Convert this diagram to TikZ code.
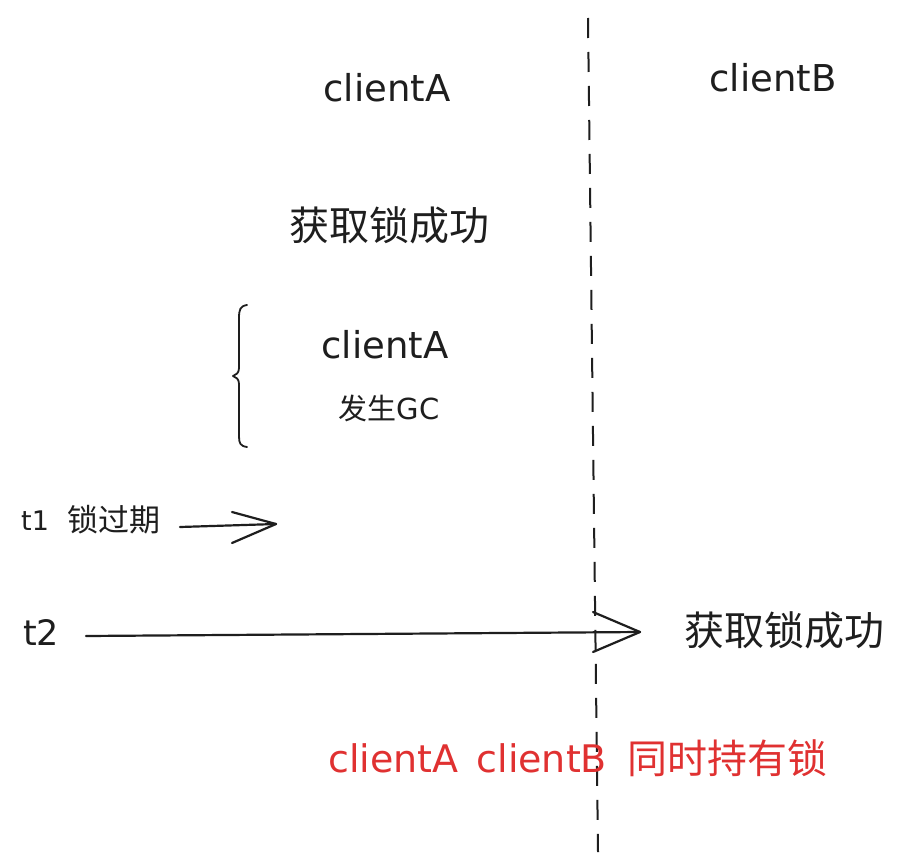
\documentclass[tikz,border=0pt]{standalone}
\usepackage{fontspec}
\setmainfont{DejaVu Sans}
\newfontfamily\cjk{Noto Sans CJK SC}
\usetikzlibrary{calc}
\definecolor{ink}{HTML}{1E1E1E}
\definecolor{exred}{HTML}{E03131}
\begin{document}
\begin{tikzpicture}[x=1pt,y=-1pt,
  hand/.style={inner sep=0pt, text=ink, font=\fontsize{37}{40}\selectfont},
  cn/.style={inner sep=0pt, text=ink, font=\cjk\fontsize{40}{44}\selectfont},
  stroke/.style={draw=ink, line width=2.2pt, line cap=round, line join=round},
  divider/.style={draw=ink, line width=2pt, dash pattern=on 20pt off 14pt}]
\path[fill=white, use as bounding box] (0,0) rectangle (904,867);

% divider
\coordinate (dtop) at (588,18);
\coordinate (dbot) at (598,852);
\draw[divider] (dtop) -- (dbot);

% headers
\node[hand] (cA) at (387,88) {clientA};
\node[hand] (cB) at (773,78) {clientB};

\node[cn] (getA) at (389,225) {获取锁成功};

% brace and GC
\node[hand] (cA2) at (385,345) {clientA};
\node[inner sep=0pt, text=ink] (gc) at (389,408) {{\cjk\fontsize{29}{32}\selectfont 发生}{\fontsize{29}{32}\selectfont GC}};
\coordinate (bt) at (247,305);
\coordinate (bb) at (247,447);
\draw[stroke, line width=1.8pt] (bt) .. controls (240,306) and (239,310) .. (239,318)
  -- (239,368) .. controls (239,373) and (236,375) .. (233,376)
  .. controls (236,377) and (239,379) .. (239,384)
  -- (239,436) .. controls (239,443) and (240,446) .. (bb);

% t1
\node[inner sep=0pt, text=ink, anchor=west, font=\fontsize{27}{30}\selectfont] (t1) at (21,521) {t1};
\node[inner sep=0pt, text=ink, anchor=west, font=\cjk\fontsize{31}{34}\selectfont] (exp) at (67,520) {锁过期};
\coordinate (a1s) at (180,527);
\coordinate (a1t) at (276,524);
\draw[stroke] (a1s) -- (a1t);
\draw[stroke] ($(a1t)+(-44,-12)$) -- (a1t) -- ($(a1t)+(-44,19)$);

% t2
\node[hand, font=\fontsize{35}{38}\selectfont] (t2) at (41,633) {t2};
\coordinate (a2s) at (86,636);
\coordinate (a2t) at (640,632);
\draw[stroke] (a2s) -- (a2t);
\draw[stroke] ($(a2t)+(-47,-20)$) -- (a2t) -- ($(a2t)+(-47,20)$);

\node[cn] (getB) at (784,630) {获取锁成功};

% conclusion
\node[inner sep=0pt, text=exred, anchor=west, font=\fontsize{38}{42}\selectfont] (both) at (328,758) {clientA\hspace{18pt}clientB};
\node[inner sep=0pt, text=exred, anchor=west, font=\cjk\fontsize{40}{44}\selectfont] (hold) at (627,758) {同时持有锁};
\end{tikzpicture}
\end{document}
